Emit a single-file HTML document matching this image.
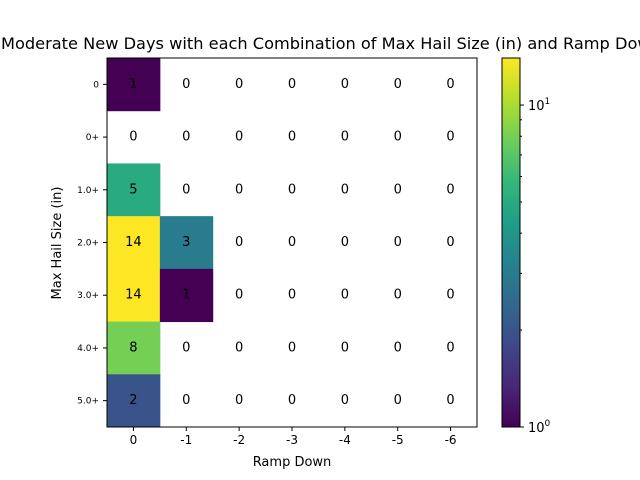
<!DOCTYPE html>
<html><head><meta charset="utf-8"><style>
body{margin:0;background:#fff;overflow:hidden;}
svg{display:block;font-family:"DejaVu Sans","Liberation Sans",sans-serif;}
</style></head><body>
<svg id="chart" width="640" height="480">
<defs><linearGradient id="vir" x1="0" y1="1" x2="0" y2="0"></linearGradient></defs>
<text x="1" y="49" text-anchor="start" font-size="16.2">Moderate New Days with each Combination of Max Hail Size (in) and Ramp Down</text>
<g id="cells"></g>
<g id="axes"></g>
<text x="292" y="466" text-anchor="middle" font-size="13">Ramp Down</text>
<text transform="translate(61,243) rotate(-90)" text-anchor="middle" font-size="13">Max Hail Size (in)</text>
</svg>
<script>
const xCats=["0","-1","-2","-3","-4","-5","-6"];
const yCats=["0","0+","1.0+","2.0+","3.0+","4.0+","5.0+"];
const row0=[1,0,0,0,0,0,0];
const row1=[0,0,0,0,0,0,0];
const row2=[5,0,0,0,0,0,0];
const row3=[14,3,0,0,0,0,0];
const row4=[14,1,0,0,0,0,0];
const row5=[8,0,0,0,0,0,0];
const row6=[2,0,0,0,0,0,0];
const values=[row0,row1,row2,row3,row4,row5,row6];
const vmin=1, vmax=14;

const NS="http://www.w3.org/2000/svg";
const L=107,R=477,T=58,B=427;
const cw=(R-L)/xCats.length, ch=(B-T)/yCats.length;
const xPos=i=>L+i*cw, yPos=j=>T+j*ch;
const vir=["#440154","#482878","#3e4989","#31688e","#26828e","#1f9e89","#35b779","#6ece58","#b5de2b","#fde725"];
function hex(h){return [1,3,5].map(i=>parseInt(h.substr(i,2),16));}
function viridis(t){t=Math.max(0,Math.min(1,t));const p=t*(vir.length-1),i=Math.min(Math.floor(p),vir.length-2),f=p-i;
const a=hex(vir[i]),b=hex(vir[i+1]);return "rgb("+a.map((v,k)=>Math.round(v+(b[k]-v)*f)).join(",")+")";}
const norm=v=>Math.log(v/vmin)/Math.log(vmax/vmin);
function el(tag,attrs,parent){const e=document.createElementNS(NS,tag);for(const k in attrs)e.setAttribute(k,attrs[k]);parent.appendChild(e);return e;}
const cells=document.getElementById("cells"), axes=document.getElementById("axes");
values.forEach((row,j)=>row.forEach((v,i)=>{
  if(v>0){const r=el("rect",{x:xPos(i),y:yPos(j),width:cw+0.5,height:ch+0.5,fill:viridis(norm(v))},cells);
    
    }
  const t=el("text",{x:xPos(i)+cw/2,y:yPos(j)+ch/2+3.5,"text-anchor":"middle","font-size":"13"},cells);
  t.textContent=v;
  
  
}));
const frame=el("rect",{x:L,y:T,width:R-L,height:B-T,fill:"none",stroke:"#000","stroke-width":1},axes);


xCats.forEach((c,i)=>{const x=xPos(i)+cw/2;
  el("line",{x1:x,x2:x,y1:B,y2:B+4,stroke:"#000"},axes);
  const t=el("text",{x:x,y:B+17,"text-anchor":"middle","font-size":"12"},axes);t.textContent=c;
  
  });
yCats.forEach((c,j)=>{const y=yPos(j)+ch/2;
  el("line",{x1:L-4,x2:L,y1:y,y2:y,stroke:"#000"},axes);
  const t=el("text",{x:L-8,y:y+3,"text-anchor":"end","font-size":"9"},axes);t.textContent=c;
  
  });
const g=document.getElementById("vir");
vir.forEach((c,i)=>el("stop",{offset:i/(vir.length-1),"stop-color":c},g));
const CL=502,CR=520;
const cb=el("rect",{x:CL,y:T,width:CR-CL,height:B-T,fill:"url(#vir)",stroke:"#000","stroke-width":1},axes);


const cy=v=>B-norm(v)*(B-T);
[2,3,4,5,6,7,8,9].forEach(v=>el("line",{x1:CR,x2:CR+2,y1:cy(v),y2:cy(v),stroke:"#000"},axes));
[[1,"0"],[10,"1"]].forEach(([v,e])=>{const y=cy(v);
  el("line",{x1:CR,x2:CR+4,y1:y,y2:y,stroke:"#000"},axes);
  const t=el("text",{x:CR+8,y:y+5,"font-size":"13"},axes);
  t.innerHTML='10<tspan dy="-6" font-size="9">'+e+'</tspan>';
  
  });
</script>
</body></html>
